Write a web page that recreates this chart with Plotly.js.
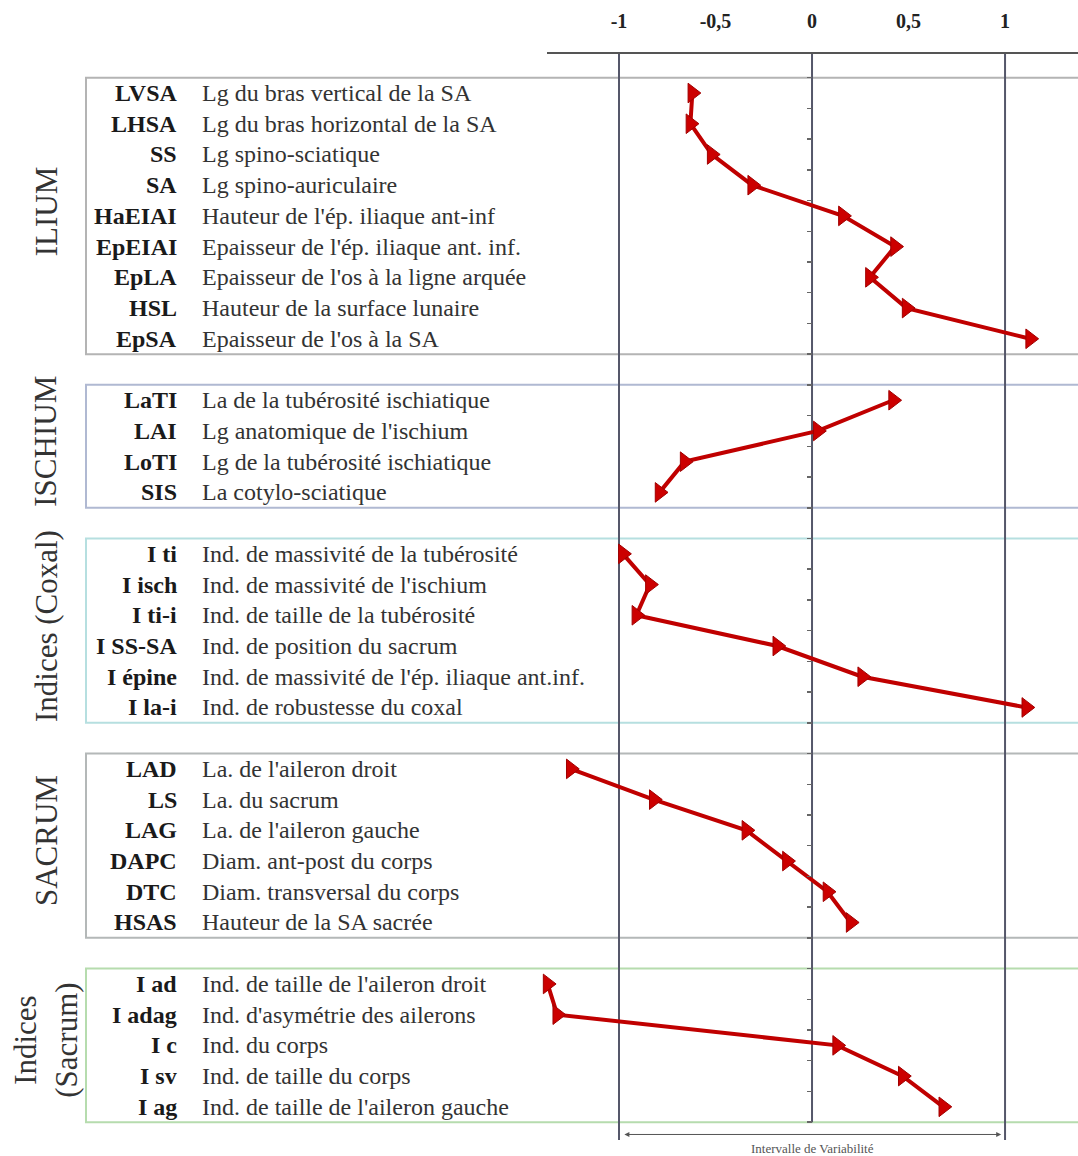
<!DOCTYPE html>
<html>
<head>
<meta charset="utf-8">
<script src="https://cdn.plot.ly/plotly-3.0.1.min.js"></script>
<style>
  html, body { margin: 0; padding: 0; background: #fff; }
  #chart { width: 1078px; height: 1156px; }
</style>
</head>
<body>
<div id="chart"></div>
<script>
// --- Data ---
const groupNames = ['ILIUM', 'ISCHIUM', 'Indices (Coxal)', 'SACRUM', 'Indices<br>(Sacrum)'];
const groupColors = ['#b4b4b4', '#b0b9d2', '#b6dfe0', '#b4b8b8', '#b6dcae'];

const iliumCodes = ['LVSA', 'LHSA', 'SS', 'SA', 'HaEIAI', 'EpEIAI', 'EpLA', 'HSL', 'EpSA'];
const iliumLabels = ['Lg du bras vertical de la SA', 'Lg du bras horizontal de la SA', 'Lg spino-sciatique',
  'Lg spino-auriculaire', "Hauteur de l'ép. iliaque ant-inf", "Epaisseur de l'ép. iliaque ant. inf.",
  "Epaisseur de l'os à la ligne arquée", 'Hauteur de la surface lunaire', "Epaisseur de l'os à la SA"];
const iliumValues = [-0.62, -0.63, -0.52, -0.31, 0.16, 0.43, 0.30, 0.49, 1.13];

const ischiumCodes = ['LaTI', 'LAI', 'LoTI', 'SIS'];
const ischiumLabels = ['La de la tubérosité ischiatique', "Lg anatomique de l'ischium",
  'Lg de la tubérosité ischiatique', 'La cotylo-sciatique'];
const ischiumValues = [0.42, 0.03, -0.66, -0.79];

const coxalCodes = ['I ti', 'I isch', 'I ti-i', 'I SS-SA', 'I épine', 'I la-i'];
const coxalLabels = ['Ind. de massivité de la tubérosité', "Ind. de massivité de l'ischium",
  'Ind. de taille de la tubérosité', 'Ind. de position du sacrum',
  "Ind. de massivité de l'ép. iliaque ant.inf.", 'Ind. de robustesse du coxal'];
const coxalValues = [-0.98, -0.84, -0.91, -0.18, 0.26, 1.11];

const sacrumCodes = ['LAD', 'LS', 'LAG', 'DAPC', 'DTC', 'HSAS'];
const sacrumLabels = ["La. de l'aileron droit", 'La. du sacrum', "La. de l'aileron gauche",
  'Diam. ant-post du corps', 'Diam. transversal du corps', 'Hauteur de la SA sacrée'];
const sacrumValues = [-1.25, -0.82, -0.34, -0.13, 0.08, 0.20];

const sacIdxCodes = ['I ad', 'I adag', 'I c', 'I sv', 'I ag'];
const sacIdxLabels = ["Ind. de taille de l'aileron droit", "Ind. d'asymétrie des ailerons",
  'Ind. du corps', 'Ind. de taille du corps', "Ind. de taille de l'aileron gauche"];
const sacIdxValues = [-1.37, -1.32, 0.13, 0.47, 0.68];

const tickValues = [-1, -0.5, 0, 0.5, 1];
const tickLabels = ['-1', '-0,5', '0', '0,5', '1'];
const refLines = [-1, 0, 1];

const groups = [
  { codes: iliumCodes, labels: iliumLabels, values: iliumValues },
  { codes: ischiumCodes, labels: ischiumLabels, values: ischiumValues },
  { codes: coxalCodes, labels: coxalLabels, values: coxalValues },
  { codes: sacrumCodes, labels: sacrumLabels, values: sacrumValues },
  { codes: sacIdxCodes, labels: sacIdxLabels, values: sacIdxValues }
];

// --- Geometry ---
const W = 1078, H = 1156;
const xRange = [-1.373, 1.378];
const xDomain = [547 / W, 1];
const yRange = [34.08, -1.27];
const serif = 'Liberation Serif, Times New Roman, serif';

// rows: one empty slot between groups
let row = 0;
groups.forEach(g => {
  g.rows = g.values.map((_, i) => row + i);
  row += g.values.length + 1;
});

const traces = groups.map(g => ({
  x: g.values,
  y: g.rows,
  type: 'scatter',
  mode: 'lines+markers',
  cliponaxis: false,
  hoverinfo: 'x+text',
  text: g.codes,
  line: { color: '#c00000', width: 4 },
  marker: { symbol: 'triangle-right', size: 17, color: '#cc0000', line: { color: '#a00000', width: 1 } },
  showlegend: false
}));

const shapes = [];
const annotations = [];
const halfTicks = [];

groups.forEach((g, gi) => {
  const top = g.rows[0] - 0.5;
  const bottom = g.rows[g.rows.length - 1] + 0.5;
  shapes.push({
    type: 'rect', xref: 'paper', yref: 'y',
    x0: 86 / W, x1: 1.01, y0: top, y1: bottom,
    line: { color: groupColors[gi], width: 2 }, fillcolor: 'rgba(0,0,0,0)', layer: 'below'
  });
  for (let t = top; t <= bottom + 1e-9; t += 1) halfTicks.push(t);

  annotations.push({
    xref: 'paper', yref: 'y', x: 46 / W, y: (top + bottom) / 2 - 0.15,
    text: groupNames[gi], textangle: -90, showarrow: false,
    xanchor: 'center', yanchor: 'middle',
    font: { family: serif, size: 31, color: '#333' }
  });

  g.rows.forEach((r, i) => {
    annotations.push({
      xref: 'paper', yref: 'y', x: 179 / W, y: r, xanchor: 'right', yanchor: 'middle',
      text: '<b>' + g.codes[i] + '</b>', showarrow: false,
      font: { family: serif, size: 24, color: '#1a1a1a' }
    });
    annotations.push({
      xref: 'paper', yref: 'y', x: 200 / W, y: r, xanchor: 'left', yanchor: 'middle',
      text: g.labels[i], showarrow: false,
      font: { family: serif, size: 24, color: '#333' }
    });
  });
});

// reference verticals at -1, 0, 1
refLines.forEach(v => {
  shapes.push({
    type: 'line', xref: 'x', yref: v === 0 ? 'y' : 'paper',
    x0: v, x1: v,
    y0: v === 0 ? yRange[1] : 0, y1: v === 0 ? row - 1.5 : 1,
    line: { color: '#55576a', width: 2 }, layer: 'below'
  });
});

// "Intervalle de Variabilité" bracket
annotations.push({
  xref: 'x', yref: 'y', x: 0.98, y: 33.9, axref: 'x', ayref: 'y', ax: -0.98, ay: 33.9,
  text: '', showarrow: true, arrowside: 'end+start', arrowhead: 2, arrowsize: 1,
  arrowwidth: 1, arrowcolor: '#555'
});
annotations.push({
  xref: 'x', yref: 'paper', x: 0, y: -0.0075, text: 'Intervalle de Variabilité', showarrow: false,
  xanchor: 'center', yanchor: 'middle', font: { family: serif, size: 13, color: '#555' }
});

const layout = {
  width: W, height: H,
  margin: { l: 0, r: 0, t: 54, b: 16 },
  paper_bgcolor: '#fff', plot_bgcolor: 'rgba(0,0,0,0)',
  xaxis: {
    domain: xDomain, range: xRange, side: 'top', anchor: 'y',
    showline: true, linecolor: '#555', linewidth: 2, mirror: false,
    showgrid: false, zeroline: false, ticks: '',
    tickvals: tickValues, ticktext: tickLabels, ticklabelstandoff: 16,
    tickfont: { family: serif, size: 20, color: '#222', weight: 'bold' },
    automargin: false, fixedrange: true
  },
  yaxis: {
    range: yRange, anchor: 'free',
    position: xDomain[0] + (0 - xRange[0]) / (xRange[1] - xRange[0]) * (xDomain[1] - xDomain[0]),
    side: 'left', showline: false, showgrid: false, zeroline: false,
    ticks: 'outside', ticklen: 5, tickwidth: 1.5, tickcolor: '#666',
    tickvals: halfTicks, showticklabels: false, automargin: false, fixedrange: true
  },
  shapes: shapes,
  annotations: annotations
};

Plotly.newPlot('chart', traces, layout, { displayModeBar: false, staticPlot: true });
</script>
</body>
</html>
